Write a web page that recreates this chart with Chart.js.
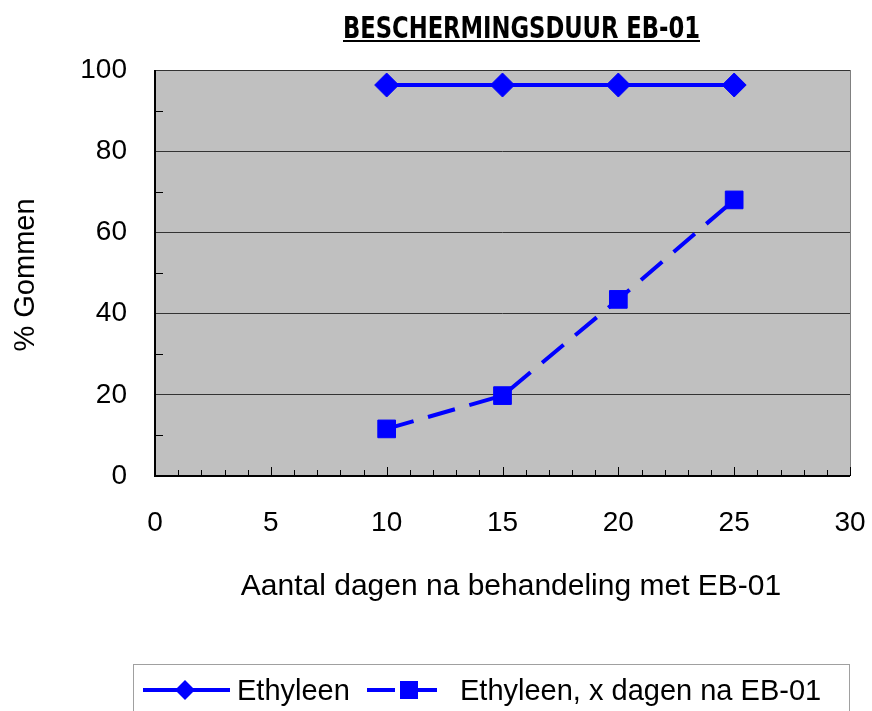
<!DOCTYPE html>
<html>
<head>
<meta charset="utf-8">
<script src="https://cdn.jsdelivr.net/npm/chart.js@4.4.0/dist/chart.umd.min.js"></script>
<style>
  html, body { margin: 0; padding: 0; background: #fff; }
  canvas { display: block; }
</style>
</head>
<body>
<canvas id="chart" width="872" height="711"></canvas>
<script>
// data
const DAYS = [10, 15, 20, 25];
const ETHYLEEN = [96.3, 96.3, 96.3, 96.3];
const ETHYLEEN_EB01 = [11.6, 19.8, 43.5, 68.0];
const X_TICKS = [0, 5, 10, 15, 20, 25, 30];
const Y_TICKS = [0, 20, 40, 60, 80, 100];
const SERIES_NAMES = ['Ethyleen', 'Ethyleen, x dagen na EB-01'];
const TITLE = 'BESCHERMINGSDUUR EB-01';
const X_TITLE = 'Aantal dagen na behandeling met EB-01';
const Y_TITLE = '% Gommen';

const BLUE = '#0000ff';
const PLOT_BG = '#c0c0c0';
const FONT = "'Liberation Sans', Arial, sans-serif";

const points = (ys) => DAYS.map((x, i) => ({ x, y: ys[i] }));

// grey plot area, axes, inward minor ticks
const frame = {
  id: 'frame',
  beforeDraw(chart) {
    const { ctx, chartArea: a } = chart;
    ctx.save();
    ctx.fillStyle = PLOT_BG;
    ctx.fillRect(a.left, a.top, a.right - a.left, a.bottom - a.top);
    ctx.restore();
  },
  beforeDatasetsDraw(chart) {
    const { ctx, chartArea: a, scales: { x, y } } = chart;
    ctx.save();
    ctx.strokeStyle = '#808080';
    ctx.lineWidth = 1;
    ctx.beginPath();
    ctx.moveTo(a.right + 0.5, a.top);
    ctx.lineTo(a.right + 0.5, a.bottom);
    ctx.stroke();

    ctx.strokeStyle = '#000';
    ctx.lineWidth = 1;
    ctx.beginPath();
    for (let v = x.min; v <= x.max; v++) {
      const px = Math.round(x.getPixelForValue(v)) + 0.5;
      const len = v % 5 === 0 ? 9 : 6;
      ctx.moveTo(px, a.bottom);
      ctx.lineTo(px, a.bottom - len);
    }
    for (let v = y.min + 10; v < y.max; v += 20) {
      const py = Math.round(y.getPixelForValue(v)) + 0.5;
      ctx.moveTo(a.left, py);
      ctx.lineTo(a.left + 8, py);
    }
    ctx.stroke();

    ctx.lineWidth = 2;
    ctx.beginPath();
    ctx.moveTo(a.left, a.top);
    ctx.lineTo(a.left, a.bottom);
    ctx.lineTo(a.right, a.bottom);
    ctx.stroke();
    ctx.restore();
  },
};

// title, axis titles and the boxed legend
const texts = {
  id: 'texts',
  afterDraw(chart) {
    const { ctx } = chart;
    ctx.save();
    ctx.fillStyle = '#000';

    // title, condensed bold, underlined
    ctx.font = "bold 31px 'Liberation Sans Narrow', 'DejaVu Sans Condensed', sans-serif";
    const tw = ctx.measureText(TITLE).width;
    const want = 357;
    ctx.save();
    ctx.translate(343, 38);
    ctx.scale(want / tw, 1);
    ctx.textBaseline = 'alphabetic';
    ctx.fillText(TITLE, 0, 0);
    ctx.restore();
    ctx.fillRect(343, 40, want, 2);

    ctx.font = '30px ' + FONT;
    ctx.textAlign = 'center';
    ctx.textBaseline = 'alphabetic';
    ctx.fillText(X_TITLE, 511, 595);

    ctx.font = '29px ' + FONT;
    ctx.save();
    ctx.translate(34, 275);
    ctx.rotate(-Math.PI / 2);
    ctx.fillText(Y_TITLE, 0, 0);
    ctx.restore();

    // legend box (runs off the bottom edge like the reference)
    ctx.strokeStyle = '#a0a0a0';
    ctx.lineWidth = 1;
    ctx.strokeRect(133.5, 664.5, 716, 60);

    const ly = 690;
    ctx.strokeStyle = BLUE;
    ctx.fillStyle = BLUE;
    ctx.lineWidth = 4;
    ctx.beginPath();
    ctx.moveTo(143, ly); ctx.lineTo(230, ly);
    ctx.moveTo(367, ly); ctx.lineTo(395, ly);
    ctx.moveTo(409, ly); ctx.lineTo(437, ly);
    ctx.stroke();
    ctx.beginPath();
    ctx.moveTo(175, ly); ctx.lineTo(185, ly - 10); ctx.lineTo(195, ly); ctx.lineTo(185, ly + 10);
    ctx.closePath();
    ctx.fill();
    ctx.fillRect(400, ly - 9, 18, 18);

    ctx.fillStyle = '#000';
    ctx.textAlign = 'left';
    ctx.fillText(SERIES_NAMES[0], 237, 700);
    ctx.fillText(SERIES_NAMES[1], 460, 700);
    ctx.restore();
  },
};

new Chart(document.getElementById('chart'), {
  type: 'line',
  data: {
    datasets: [
      {
        label: SERIES_NAMES[0],
        data: points(ETHYLEEN),
        borderColor: BLUE,
        backgroundColor: BLUE,
        borderWidth: 4,
        pointStyle: 'rectRot',
        pointRadius: 12,
        pointBorderWidth: 1,
        tension: 0,
      },
      {
        label: SERIES_NAMES[1],
        data: points(ETHYLEEN_EB01),
        borderColor: BLUE,
        backgroundColor: BLUE,
        borderWidth: 4,
        borderDash: [28, 15],
        pointStyle: 'rect',
        pointRadius: 12.5,
        pointBorderWidth: 1,
        tension: 0,
      },
    ],
  },
  options: {
    responsive: false,
    animation: false,
    layout: { padding: { top: 70, right: 22, left: 0, bottom: 0 } },
    plugins: {
      legend: { display: false },
      tooltip: { enabled: false },
    },
    scales: {
      x: {
        type: 'linear',
        min: 0,
        max: 30,
        afterBuildTicks: (s) => { s.ticks = X_TICKS.map(v => ({ value: v })); },
        afterFit: (s) => { s.height = 235; s.paddingLeft = 0; s.paddingRight = 0; },
        grid: { display: false, drawTicks: false },
        border: { display: false },
        ticks: { color: '#000', font: { family: FONT, size: 28 }, padding: 30, maxRotation: 0 },
      },
      y: {
        min: 0,
        max: 100,
        afterBuildTicks: (s) => { s.ticks = Y_TICKS.map(v => ({ value: v })); },
        afterFit: (s) => { s.width = 155; s.paddingTop = 0; s.paddingBottom = 0; },
        grid: {
          drawTicks: false,
          color: (c) => (c.tick && c.tick.value === 0 ? 'rgba(0,0,0,0)' : '#333'),
          lineWidth: 1,
        },
        border: { display: false },
        ticks: { color: '#000', font: { family: FONT, size: 28 }, padding: 28 },
      },
    },
  },
  plugins: [frame, texts],
});
</script>
</body>
</html>
